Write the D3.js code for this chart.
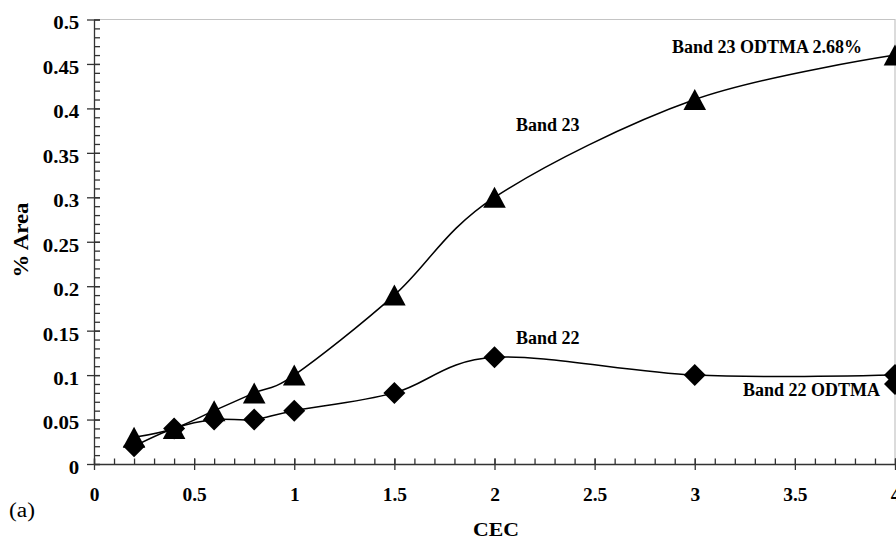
<!DOCTYPE html>
<html>
<head>
<meta charset="utf-8">
<script src="https://cdn.jsdelivr.net/npm/d3@7"></script>
<style>
  body { margin: 0; background: #fff; }
  svg text { font-family: "Liberation Serif", "Times New Roman", serif; }
</style>
</head>
<body>
<div id="chart"></div>
<script>
// data
var cec = [0.2, 0.4, 0.6, 0.8, 1, 1.5, 2, 3, 4];
var band23 = [0.03, 0.04, 0.06, 0.08, 0.10, 0.19, 0.30, 0.41, 0.46];
var band22 = [0.02, 0.04, 0.05, 0.05, 0.06, 0.08, 0.12, 0.10, 0.10];
var odtma22 = [{ x: 4, y: 0.09 }];   // extra diamond at the right edge
var xTicks = [0, 0.5, 1, 1.5, 2, 2.5, 3, 3.5, 4];
var yTicks = [0, 0.05, 0.1, 0.15, 0.2, 0.25, 0.3, 0.35, 0.4, 0.45, 0.5];

function init() {
    var w = 896, h = 539;

    var svg = d3.select("#chart")
        .append("svg")
        .attr("width", w)
        .attr("height", h);

    var x = d3.scaleLinear().domain([0, 4]).range([94, 895]);
    var y = d3.scaleLinear().domain([0, 0.5]).range([464, 19.5]);

    // light border on top and right of plot area
    svg.append("path")
        .attr("d", "M" + x(0) + "," + y(0.5) + "H" + x(4) + "V" + y(0))
        .attr("fill", "none")
        .attr("stroke", "#c4c4c4")
        .attr("stroke-width", 1.2);

    var xMinor = d3.range(0, 41).map(function(i) { return i / 10; });
    var yMinor = d3.range(0, 51).map(function(i) { return i / 100; });

    // minor ticks point inward
    svg.append("g")
        .attr("transform", "translate(0," + y(0) + ")")
        .call(d3.axisBottom(x).tickValues(xMinor).tickSize(-5.5).tickFormat(""))
        .call(function(g) { g.select(".domain").remove(); });
    svg.append("g")
        .attr("transform", "translate(" + x(0) + ",0)")
        .call(d3.axisLeft(y).tickValues(yMinor).tickSize(-6).tickFormat(""))
        .call(function(g) { g.select(".domain").remove(); });

    // major ticks cross the axis
    var gx = svg.append("g")
        .attr("transform", "translate(0," + y(0) + ")")
        .call(d3.axisBottom(x).tickValues(xTicks).tickSize(6).tickSizeOuter(0)
            .tickFormat(function(d) { return d; }));
    gx.selectAll(".tick line").attr("y1", -5.5);
    gx.selectAll(".tick text")
        .attr("y", 37).attr("dy", 0)
        .attr("transform", "scale(1.08,1)")
        .attr("font-size", 18).attr("font-weight", "bold").attr("fill", "#000");

    var gy = svg.append("g")
        .attr("transform", "translate(" + x(0) + ",0)")
        .call(d3.axisLeft(y).tickValues(yTicks).tickSize(7).tickSizeOuter(0)
            .tickFormat(function(d) { return d; }));
    gy.selectAll(".tick line").attr("x1", 6);
    gy.selectAll(".tick text")
        .attr("x", -14.7 / 1.16).attr("dy", "0.52em")
        .attr("transform", "scale(1.16,1)")
        .attr("font-size", 18).attr("font-weight", "bold").attr("fill", "#000");

    svg.selectAll(".domain, .tick line")
        .attr("stroke", "#333")
        .attr("stroke-width", 1.3);

    // smoothed lines
    var line = d3.line()
        .x(function(d) { return x(d[0]); })
        .y(function(d) { return y(d[1]); })
        .curve(d3.curveCardinal.tension(0));

    svg.append("path")
        .attr("d", line(d3.zip(cec, band23)))
        .attr("fill", "none").attr("stroke", "#000").attr("stroke-width", 1.5);
    svg.append("path")
        .attr("d", line(d3.zip(cec, band22)))
        .attr("fill", "none").attr("stroke", "#000").attr("stroke-width", 1.5);

    // markers
    var diamond = "M0,-11L11,0L0,11L-11,0Z";
    var triangle = "M0,-10.5L11.3,10.5L-11.3,10.5Z";

    svg.selectAll(".tri")
        .data(d3.zip(cec, band23))
        .enter()
        .append("path")
        .attr("class", "tri")
        .attr("d", triangle)
        .attr("transform", function(d) { return "translate(" + x(d[0]) + "," + y(d[1]) + ")"; })
        .attr("fill", "#000");

    svg.selectAll(".dia")
        .data(d3.zip(cec, band22).concat(odtma22.map(function(d) { return [d.x, d.y]; })))
        .enter()
        .append("path")
        .attr("class", "dia")
        .attr("d", diamond)
        .attr("transform", function(d) { return "translate(" + x(d[0]) + "," + y(d[1]) + ")"; })
        .attr("fill", "#000");

    // annotations
    var notes = [
        { t: "Band 23", x: 516, y: 131 },
        { t: "Band 22", x: 516, y: 344 },
        { t: "Band 23 ODTMA 2.68%", x: 672, y: 53 },
        { t: "Band 22 ODTMA", x: 743, y: 396 }
    ];
    svg.selectAll(".note")
        .data(notes)
        .enter()
        .append("text")
        .attr("class", "note")
        .attr("x", function(d) { return d.x; })
        .attr("y", function(d) { return d.y; })
        .attr("font-size", 18)
        .attr("font-weight", "bold")
        .text(function(d) { return d.t; });

    // axis titles
    svg.append("text")
        .attr("x", 496).attr("y", 536)
        .attr("text-anchor", "middle")
        .attr("font-size", 19).attr("font-weight", "bold")
        .attr("textLength", 46).attr("lengthAdjust", "spacingAndGlyphs")
        .text("CEC");

    svg.append("text")
        .attr("transform", "translate(28,240) rotate(-90)")
        .attr("text-anchor", "middle")
        .attr("font-size", 20).attr("font-weight", "bold")
        .attr("textLength", 75).attr("lengthAdjust", "spacingAndGlyphs")
        .text("% Area");

    svg.append("text")
        .attr("x", 9).attr("y", 517)
        .attr("font-size", 20)
        .attr("textLength", 26).attr("lengthAdjust", "spacingAndGlyphs")
        .text("(a)");
}

window.onload = init;
</script>
</body>
</html>
